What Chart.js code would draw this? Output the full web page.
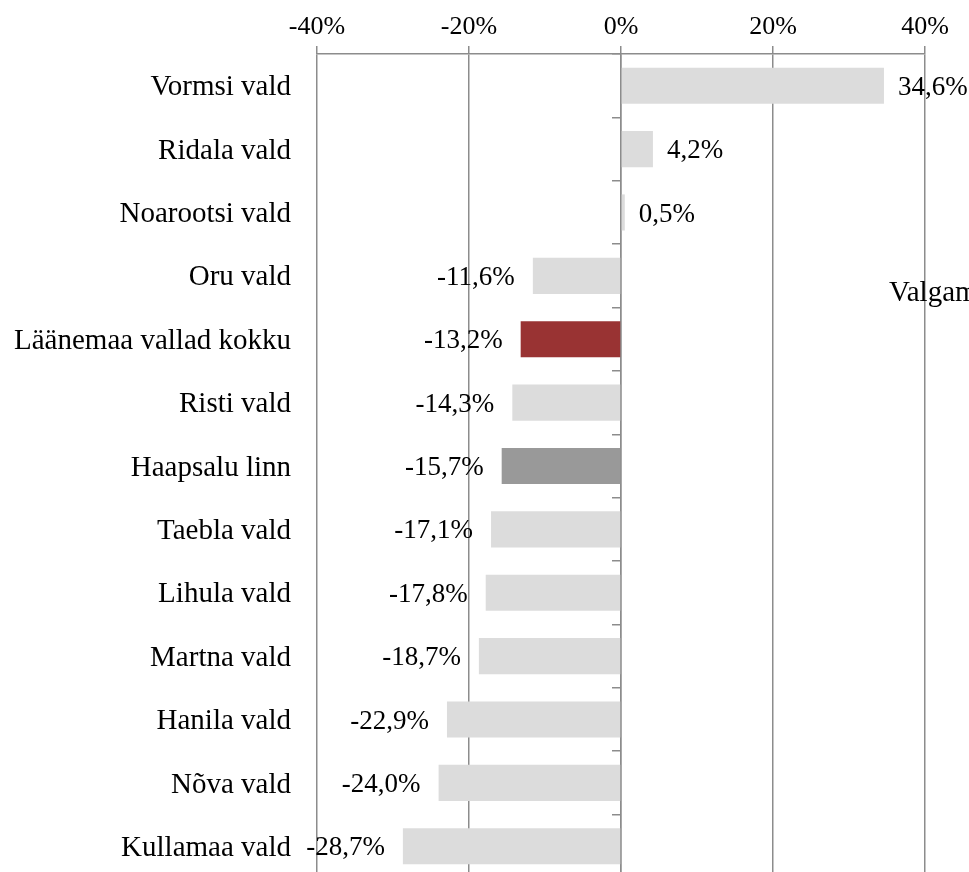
<!DOCTYPE html>
<html>
<head>
<meta charset="utf-8">
<script src="https://cdn.jsdelivr.net/npm/chart.js@4.4.0/dist/chart.umd.min.js"></script>
<style>
    html, body { margin: 0; padding: 0; background: #fff; overflow: hidden; }
    canvas { display: block; }
</style>
</head>
<body>
<canvas id="myChart" width="969" height="880"></canvas>
<script>
const categories = [
    'Vormsi vald', 'Ridala vald', 'Noarootsi vald', 'Oru vald', 'Läänemaa vallad kokku',
    'Risti vald', 'Haapsalu linn', 'Taebla vald', 'Lihula vald', 'Martna vald',
    'Hanila vald', 'Nõva vald', 'Kullamaa vald'
];
const values = [34.6, 4.2, 0.5, -11.6, -13.2, -14.3, -15.7, -17.1, -17.8, -18.7, -22.9, -24.0, -28.7];
const barColors = [
    '#dcdcdc', '#dcdcdc', '#dcdcdc', '#dcdcdc', '#993333',
    '#dcdcdc', '#999999', '#dcdcdc', '#dcdcdc', '#dcdcdc',
    '#dcdcdc', '#dcdcdc', '#dcdcdc'
];
const tickValues = [-40, -20, 0, 20, 40];
const sideNote = 'Valgamaa';

const fontFamily = '"Liberation Serif", "Times New Roman", serif';
const gridColor = '#8c8c8c';

function fmt(v) {
    return v.toFixed(1).replace('.', ',') + '%';
}

// value labels next to the bar ends
const valueLabels = {
    id: 'valueLabels',
    afterDatasetsDraw(chart) {
        const ctx = chart.ctx;
        const meta = chart.getDatasetMeta(0);
        ctx.save();
        ctx.font = '27px ' + fontFamily;
        ctx.fillStyle = '#000';
        ctx.textBaseline = 'middle';
        meta.data.forEach((bar, i) => {
            const v = values[i];
            if (v >= 0) {
                ctx.textAlign = 'left';
                ctx.fillText(fmt(v), bar.x + 14, bar.y + 2);
            } else {
                ctx.textAlign = 'right';
                ctx.fillText(fmt(v), bar.x - 18, bar.y + 2);
            }
        });
        // stray text at the right edge, cut off by the canvas
        ctx.textAlign = 'left';
        ctx.font = '29px ' + fontFamily;
        ctx.fillText(sideNote, 889, 293);
        ctx.restore();
    }
};

const ctx = document.getElementById('myChart').getContext('2d');
new Chart(ctx, {
    type: 'bar',
    data: {
        labels: categories,
        datasets: [{
            data: values,
            backgroundColor: barColors,
            borderWidth: 0,
            barPercentage: 0.57,
            categoryPercentage: 1
        }]
    },
    options: {
        indexAxis: 'y',
        responsive: false,
        animation: false,
        devicePixelRatio: 1,
        layout: { padding: { left: 0, right: 44, top: 0, bottom: 2 } },
        plugins: {
            legend: { display: false },
            tooltip: { enabled: false }
        },
        scales: {
            x: {
                type: 'linear',
                position: 'top',
                min: -40,
                max: 40,
                afterBuildTicks: s => { s.ticks = tickValues.map(v => ({ value: v })); },
                ticks: {
                    callback: v => v + '%',
                    font: { family: fontFamily, size: 26 },
                    color: '#000',
                    padding: 3
                },
                grid: { color: gridColor, lineWidth: 1.5, tickLength: 8 },
                border: { color: gridColor, width: 1.5 },
                afterFit: s => { s.height = 54; }
            },
            y: {
                position: 'left',
                ticks: {
                    font: { family: fontFamily, size: 29 },
                    color: '#000',
                    padding: 26,
                    labelOffset: 2
                },
                grid: { display: false, drawTicks: false },
                border: { display: false },
                afterFit: s => {
                    s.width = 317;
                    s.paddingTop = 0;
                    s.paddingBottom = 0;
                }
            },
            zero: {
                type: 'category',
                axis: 'y',
                position: { x: 0 },
                offset: true,
                ticks: { display: false },
                grid: { drawOnChartArea: false, offset: true, tickLength: 8, color: gridColor, lineWidth: 1.5 },
                border: { color: gridColor, width: 1.5 }
            }
        }
    },
    plugins: [valueLabels]
});
</script>
</body>
</html>
